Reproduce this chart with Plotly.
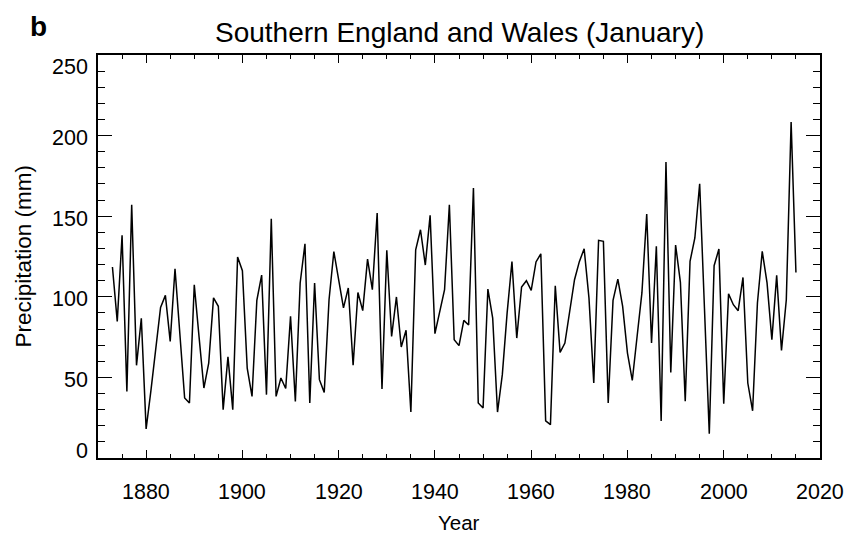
import plotly.graph_objects as go

# ---- data ----
years = list(range(1873, 2016))
precip = [
    118.5, 84.7, 138.1, 41.3, 157.1, 57.5, 86.6,            # 1873-1879
    18.0, 42.0, 67.0, 93.4, 100.9, 72.3, 117.4, 77.5, 37.2, 34.1,   # 1880s
    107.5, 75.0, 43.4, 58.9, 99.3, 94.1, 30.0, 62.7, 30.0, 124.7,   # 1890s
    116.2, 55.8, 38.2, 97.8, 113.5, 39.3, 148.4, 38.2, 49.6, 43.1,  # 1900s
    87.9, 35.1, 108.6, 132.9, 34.1, 108.6, 48.6, 40.7, 98.2, 128.0, # 1910s
    110.6, 93.1, 105.5, 57.5, 102.7, 91.4, 123.4, 104.4, 152.0, 42.8,  # 1920s
    128.8, 75.4, 99.9, 68.9, 79.2, 28.5, 129.2, 141.6, 119.7, 150.5,   # 1930s
    77.1, 90.0, 104.4, 157.1, 73.4, 69.7, 85.4, 82.5, 167.5, 34.1,     # 1940s
    31.0, 104.8, 86.8, 28.5, 51.7, 90.0, 121.8, 74.4, 106.1, 110.0,    # 1950s
    104.0, 121.6, 126.7, 23.1, 20.7, 106.9, 65.5, 71.3, 90.0, 110.6,   # 1960s
    121.8, 129.8, 99.3, 46.5, 135.0, 134.4, 34.1, 97.8, 111.0, 94.1,   # 1970s
    65.1, 48.1, 75.4, 102.4, 151.4, 71.3, 131.3, 22.9, 183.6, 53.1,    # 1980s
    132.1, 109.0, 35.3, 122.0, 136.5, 170.1, 92.6, 15.1, 119.3, 129.6, # 1990s
    33.6, 101.8, 95.1, 91.4, 112.0, 46.5, 29.3, 96.2, 128.2, 108.6,    # 2000s
    73.4, 113.3, 66.7, 98.2, 208.4, 115.1,                             # 2010-2015
]
assert len(years) == len(precip)

x_tick_vals = [1880, 1900, 1920, 1940, 1960, 1980, 2000, 2020]
x_tick_text = ["1880", "1900", "1920", "1940", "1960", "1980", "2000", "2020"]
y_tick_vals = [0, 50, 100, 150, 200, 250]
y_tick_text = ["0", "50", "100", "150", "200", "250"]
y_label_shift = [7, -2.5, -2.5, -2.5, -2.5, -11.5]

title_text = "Southern England and Wales (January)"
panel_text = "b"
x_title = "Year"
y_title = "Precipitation (mm)"

FONT = "Liberation Sans, Arial, Helvetica, sans-serif"

fig = go.Figure()
fig.add_trace(go.Scatter(
    x=years, y=precip, mode="lines",
    line=dict(color="black", width=1.5),
    showlegend=False, hoverinfo="skip",
))

annotations = []
for v, t in zip(x_tick_vals, x_tick_text):
    annotations.append(dict(
        x=v, xref="x", y=0, yref="paper", text=t, showarrow=False,
        xanchor="center", yanchor="middle", yshift=-34,
        font=dict(family=FONT, size=21.5, color="black"),
    ))
for v, t, s in zip(y_tick_vals, y_tick_text, y_label_shift):
    annotations.append(dict(
        x=0, xref="paper", y=v, yref="y", text=t, showarrow=False,
        xanchor="right", yanchor="middle", xshift=-8, yshift=s,
        font=dict(family=FONT, size=21.5, color="black"),
    ))
annotations.append(dict(
    x=0.5, xref="paper", y=0, yref="paper", text=x_title, showarrow=False,
    xanchor="center", yanchor="middle", yshift=-64,
    font=dict(family=FONT, size=20.5, color="black"),
))
annotations.append(dict(
    x=0, xref="paper", y=0.5, yref="paper", text=y_title, showarrow=False,
    xanchor="center", yanchor="middle", xshift=-75, textangle=-90,
    font=dict(family=FONT, size=22.5, color="black"),
))
annotations.append(dict(
    x=0, xref="paper", y=1, yref="paper", text="<b>" + panel_text + "</b>",
    showarrow=False, xanchor="center", yanchor="middle", xshift=-60, yshift=29,
    font=dict(family=FONT, size=28, color="black"),
))
annotations.append(dict(
    x=0.5, xref="paper", y=1, yref="paper", text=title_text,
    showarrow=False, xanchor="center", yanchor="middle", yshift=23,
    font=dict(family=FONT, size=28, color="black"),
))

# page body has an 8px default margin, so the figure is 8px smaller
fig.update_layout(
    width=850, height=527,
    margin=dict(l=90, r=38, t=47, b=77, pad=0),
    paper_bgcolor="white", plot_bgcolor="white",
    annotations=annotations,
    font=dict(family=FONT, color="black"),
)
fig.update_xaxes(
    range=[1870, 2020], tick0=1880, dtick=20,
    ticks="inside", ticklen=8, tickwidth=1.2, tickcolor="black",
    showticklabels=False, showgrid=False, zeroline=False,
    showline=True, linecolor="black", linewidth=1.5, mirror="ticks",
    minor=dict(ticks="inside", dtick=5, tick0=1870, ticklen=4.5,
               tickwidth=1.0, tickcolor="black", showgrid=False),
)
fig.update_yaxes(
    range=[0, 250], tick0=0, dtick=50,
    ticks="inside", ticklen=14, tickwidth=1.2, tickcolor="black",
    showticklabels=False, showgrid=False, zeroline=False,
    showline=True, linecolor="black", linewidth=1.5, mirror="ticks",
    minor=dict(ticks="inside", dtick=10, tick0=0, ticklen=7.5,
               tickwidth=1.0, tickcolor="black", showgrid=False),
)

fig.write_html("out.html")
